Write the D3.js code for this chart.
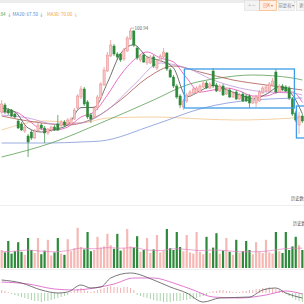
<!DOCTYPE html>
<html>
<head>
<meta charset="utf-8">
<script src="https://cdn.jsdelivr.net/npm/d3@7"></script>
<style>
  html, body { margin: 0; padding: 0; background: #fff; overflow: hidden; }
  svg { display: block; font-family: "Noto Sans CJK SC", "Noto Sans", sans-serif; }
</style>
</head>
<body>
<svg id="chart" width="304" height="304"></svg>
<script>
// daily candles, left to right
const opens = [59,62.5,60,60,58,54.5,53,49.5,47,49,46,49.5,52.5,51,48.5,50,51.5,53,52.5,54,53,53,55.5,61,66.5,70.5,64,57.5,56.5,61,
  66,72.5,79.5,87,92,88,88,85.5,89.5,95.5,99.5,91,85,87.5,83.5,83.5,86.5,81,84.5,86.5,88.5,80,76.5,72,67,61.5,64.5,67,68.5,68.5,
  69,71.5,73.5,71,79.5,72.5,69.5,72,68,70,66.5,69,65.5,68,67,67,63.5,63.5,64.5,68.5,69.5,69.5,72.5,79,69,72,71.5,71,65.5,58.5,52.5,57]
const closes = [63,59,58.5,57,56.5,51,50,51.5,44,46,49.5,52.5,51,48.5,50.5,51.5,50,50,54,52.5,55,55.5,60,67,70.5,63,56.5,55.5,61,66.5,
  73,80,87.5,92.5,88,86.5,85,90,96,99.5,92.5,86,87,84,86,86.5,82,84.5,87,89,80.5,76.5,72,66.5,62.5,64.5,67.5,69,70.5,71,
  72,73.5,71,73,72,69.5,72,67.5,70,66.5,68.5,65.5,67.5,64.5,64.5,63.5,66,66.5,69,71,71.5,73,74.5,69,72,70,69.5,66,58,55,57,54.5]
const highs = [65,63.5,61,60.5,58.5,55.5,54,52.5,48,50,50.5,53.5,53.5,52,51,52,52.5,57.5,55,55,56,56.5,61,68,72,71.5,65,58.5,62,67.5,
  74,81.5,89,95,93,89,88.5,91,97,100.94,100,92,88,88.5,87,87.5,87.5,85.5,88,91,89,81,77.5,73,68,65.5,68.5,70,71.5,72,
  73,74.5,74.5,74,81,73.5,73,73,71,71,69.5,70,68.5,69,68,68,67,67.5,70,72,72.5,74,76,80.5,73,73,72.5,72,66.5,59.5,59,58]
const lows = [58,58,57.5,56.5,56,50.5,49.5,48.5,36.5,45,45.5,49,50,43.5,47.5,49,49.5,49.5,51.5,51.5,52.5,52.5,55,60,65.5,62,55.5,53.5,56,60,
  65.5,72,79,86.5,87,85,84,84.5,89,95,91.5,85,84,83.5,82.5,83,81,80,84,86,79.5,76,71,65.5,61,60,63.5,66.5,67.5,68,
  68.5,71,70.5,70.5,71,69,69,67,67.5,66,66,65,65,64,64,61,63,61.5,64,68,69,69,72,68,68.5,69.5,69,65,57,54,48,53.5]
const volumes = [30,26,45,24,28,43,27,22,50,30,25,50,23,29,47,21,26,50,24,22,48,28,33,67,35,31,60,28,30,52,
  34,36,57,38,32,57,29,33,65,36,34,53,27,30,50,25,31,55,26,29,65,33,30,60,35,28,55,26,24,60,
  27,23,52,25,34,58,24,29,50,27,22,47,25,28,45,30,23,43,27,25,47,26,24,60,28,25,60,30,36,52,38,30]

// moving averages, read at sampled candles: [candle, price]
const ma5 = [[0,61],[4,59.1],[8,51],[12,49],[16,50.3],[20,52.5],[24,61.2],[28,61.3],[32,73.6],[36,88.2],[40,92.6],[44,86.6],
  [48,84.7],[52,81],[56,66.6],[60,69.5],[64,72.3],[68,70.2],[72,67.6],[76,65.7],[80,67.8],[84,71.6],[88,67.5],[91,58.1]]
const ma10 = [[0,59],[4,59],[8,55],[12,50.5],[16,50],[20,51.5],[24,56.5],[28,59],[32,67.5],[36,77.5],[40,85],[44,89],
  [48,86],[52,84],[56,76],[60,69],[64,70],[68,71],[72,69.5],[76,67],[80,67],[84,69],[88,69],[91,63.84]]
const ma20 = [[0,57.5],[8,56],[16,53],[24,53.5],[32,60],[40,72.5],[48,83.5],[56,81],[64,75],[72,71],[80,69],[88,68.5],[91,67.5]]
const ma30 = [[0,57],[10,54],[20,52.5],[28,56],[36,65],[44,76],[52,82],[60,79],[70,75],[80,72.5],[91,70]]
const ma60 = [[0,36.5],[15,43.5],[30,53.5],[46,65],[56,72.5],[66,76],[76,77.5],[88,76],[91,75]]
const ma120 = [[0,43.5],[14,43.5],[24,44],[30,44.5],[46,52.5],[61,61],[76,65],[91,66]]
const ma250 = [[0,50],[13,54.5],[24,53.5],[32,56],[46,56.5],[61,55.5],[71,55],[88,56],[91,56.5]]
const volMa = [[0,27],[4,28],[8,30],[12,28],[16,27],[20,29],[24,33],[28,32],[32,34],[36,33],[40,34],[44,30],
  [48,29],[52,32],[56,31],[60,29],[64,30],[68,29],[72,27],[76,27],[80,28],[84,31],[88,33],[91,33]]

// MACD
const dif = [[0,1.3],[6,1.0],[12,0.3],[17,0],[20,0.1],[24,0.8],[27,0.5],[30,0.6],[33,1.5],[39,2.0],[46,1.3],[51,0.6],
  [56,0],[61,-0.9],[66,-0.5],[75,-0.4],[79,0.3],[83,0.5],[86,0],[91,-0.5]]
const dea = [[0,1.1],[8,0.9],[16,0.4],[22,0.3],[28,0.5],[34,0.9],[40,1.5],[46,1.5],[52,1.0],[58,0.3],[64,-0.4],[72,-0.5],
  [80,-0.2],[86,0.2],[91,-0.1]]
const hist = [0.3,0.2,0.1,-0.1,-0.2,-0.3,-0.4,-0.5,-0.6,-0.7,-0.8,-0.8,-0.9,-0.8,-0.8,-0.7,-0.6,-0.5,-0.4,-0.3,-0.2,0.1,0.2,0.4,
  0.5,0.4,0.2,0.1,0.2,0.3,0.4,0.5,0.6,0.7,0.6,0.6,0.5,0.6,0.6,0.5,0.3,-0.2,-0.3,-0.4,-0.5,-0.6,-0.7,-0.8,
  -0.8,-0.9,-0.9,-0.9,-0.8,-0.8,-0.8,-0.7,-0.7,-0.6,-0.6,-0.5,-0.4,-0.3,-0.2,0.1,0.2,0.2,0.3,0.3,0.2,0.2,0.1,0.1,
  0.1,0.2,0.2,0.3,0.3,0.4,0.4,0.5,0.5,0.6,0.5,0.4,0.3,0.2,-0.1,-0.3,-0.5,-0.7,-0.8,-0.9]

// highlighted ranges: candle span and price span
const boxes = [{from: 55.3, to: 88.6, hi: 80.5, lo: 61}, {from: 89.2, to: 93.5, hi: 62, lo: 46}]

const W = 304
const svg = d3.select('#chart')

const x = d3.scaleLinear().domain([-0.5, 91.5]).range([0, W])
const yPrice = d3.scaleLinear().domain([15, 106]).range([200, 18])
const yVol = d3.scaleLinear().domain([0, 100]).range([268, 208])
const yMacd = d3.scaleLinear().domain([-1.1, 2.3]).range([304, 270])

const idx = d3.range(opens.length)
const isUp = i => closes[i] >= opens[i]
const red = '#e98a8a', redFill = '#f6c6c6', green = '#2e8a3a'

// top toolbar
svg.append('rect').attr('x', 0).attr('y', 0).attr('width', W).attr('height', 3).attr('fill', '#ececec')
const buttons = [
  {x: 244, w: 15, t: '+  —', fill: '#f3f3f3', stroke: '#dddddd', color: '#888'},
  {x: 259, w: 17, t: '日K ▾', fill: '#fff0e4', stroke: '#f3a566', color: '#ef7a2a'},
  {x: 278, w: 16, t: '前复权 ▾', fill: '#f5f5f5', stroke: '#dddddd', color: '#888'},
  {x: 296, w: 14, t: '更多', fill: '#f5f5f5', stroke: '#dddddd', color: '#888'}
]
const btn = svg.selectAll('g.btn').data(buttons).enter().append('g').attr('class', 'btn')
btn.append('rect')
  .attr('x', d => d.x + 0.5).attr('y', 0.5).attr('width', d => d.w).attr('height', 10)
  .attr('fill', d => d.fill).attr('stroke', d => d.stroke).attr('stroke-width', 0.6)
btn.append('text')
  .attr('x', d => d.x + d.w / 2 + 0.5).attr('y', 7.3).attr('text-anchor', 'middle')
  .attr('font-size', 4.3).attr('fill', d => d.color).text(d => d.t)

// legend
const legend = svg.append('g').attr('font-size', 4.6)
legend.append('text').attr('x', 5.5).attr('y', 15.5).attr('text-anchor', 'end').attr('fill', '#3aa84a')
  .text('MA10: ' + ma10[ma10.length - 1][1].toFixed(2))
legend.append('text').attr('x', 7).attr('y', 15.5).attr('fill', '#4d8fd6')
  .text('↓ MA20: ' + ma20[ma20.length - 1][1].toFixed(2) + ' ↓')
legend.append('text').attr('x', 47).attr('y', 15.5).attr('fill', '#efa53c')
  .text('MA30: ' + ma30[ma30.length - 1][1].toFixed(2) + ' ↓')

// pane separators
svg.append('line').attr('x1', 0).attr('x2', W).attr('y1', 205.5).attr('y2', 205.5).attr('stroke', '#eeeeee')
svg.append('line').attr('x1', 0).attr('x2', W).attr('y1', 269.5).attr('y2', 269.5).attr('stroke', '#eeeeee')

// moving averages, long ones first
const maLines = [
  {data: ma250, color: '#f3c58d'},
  {data: ma120, color: '#7f97d8'},
  {data: ma60, color: '#5c9e55'},
  {data: ma30, color: '#a8574f'},
  {data: ma20, color: '#bf97dc'},
  {data: ma10, color: '#e24bb6'},
  {data: ma5, color: '#4a4a4a'}
]
const priceLine = d3.line().x(p => x(p[0])).y(p => yPrice(p[1])).curve(d3.curveMonotoneX)
svg.append('g').selectAll('path').data(maLines).enter().append('path')
  .attr('d', d => priceLine(d.data))
  .attr('fill', 'none').attr('stroke', d => d.color).attr('stroke-width', 0.8)

// candles
const candles = svg.append('g').selectAll('g').data(idx).enter().append('g')
candles.append('line')
  .attr('x1', i => x(i)).attr('x2', i => x(i))
  .attr('y1', i => yPrice(highs[i])).attr('y2', i => yPrice(lows[i]))
  .attr('stroke', i => isUp(i) ? red : green).attr('stroke-width', 0.7)
candles.append('rect')
  .attr('x', i => x(i) - 1.1).attr('width', 2.2)
  .attr('y', i => yPrice(Math.max(opens[i], closes[i])))
  .attr('height', i => Math.max(0.7, Math.abs(yPrice(opens[i]) - yPrice(closes[i]))))
  .attr('fill', i => isUp(i) ? redFill : green)
  .attr('stroke', i => isUp(i) ? red : green).attr('stroke-width', 0.5)

// max price label
const peak = d3.maxIndex(highs)
svg.append('line')
  .attr('x1', x(peak) + 0.5).attr('x2', x(peak) + 3.5)
  .attr('y1', yPrice(highs[peak])).attr('y2', yPrice(highs[peak]))
  .attr('stroke', '#777').attr('stroke-width', 0.5)
svg.append('text').attr('x', x(peak) + 4).attr('y', yPrice(highs[peak]) + 1.6)
  .attr('font-size', 4.5).attr('fill', '#666').text(highs[peak].toFixed(2))

// highlight boxes
svg.append('g').selectAll('rect').data(boxes).enter().append('rect')
  .attr('x', d => x(d.from)).attr('width', d => x(d.to) - x(d.from))
  .attr('y', d => yPrice(d.hi)).attr('height', d => yPrice(d.lo) - yPrice(d.hi))
  .attr('fill', 'none').attr('stroke', '#3d9de6').attr('stroke-width', 1.3)

// volume
svg.append('g').selectAll('rect').data(idx).enter().append('rect')
  .attr('x', i => x(i) - 1.1).attr('width', 2.2)
  .attr('y', i => yVol(volumes[i])).attr('height', i => yVol(0) - yVol(volumes[i]))
  .attr('fill', i => isUp(i) ? '#f5b8b4' : green)
svg.append('path')
  .attr('d', d3.line().x(p => x(p[0])).y(p => yVol(p[1])).curve(d3.curveMonotoneX)(volMa))
  .attr('fill', 'none').attr('stroke', '#e27fc4').attr('stroke-width', 0.7)

// pane labels
svg.append('text').attr('x', 291).attr('y', 199.5).attr('font-size', 4.3).attr('fill', '#555').text('历史数据')
svg.append('text').attr('x', 293).attr('y', 225).attr('font-size', 4.3).attr('fill', '#555').text('历史数据')

// MACD
svg.append('g').selectAll('line').data(idx).enter().append('line')
  .attr('x1', i => x(i)).attr('x2', i => x(i))
  .attr('y1', yMacd(0)).attr('y2', i => yMacd(hist[i]))
  .attr('stroke', i => hist[i] >= 0 ? '#f09c9c' : '#94c794').attr('stroke-width', 0.8)
const macdLine = d3.line().x(p => x(p[0])).y(p => yMacd(p[1])).curve(d3.curveMonotoneX)
svg.append('path').attr('d', macdLine(dea)).attr('fill', 'none').attr('stroke', '#d957c4').attr('stroke-width', 0.8)
svg.append('path').attr('d', macdLine(dif)).attr('fill', 'none').attr('stroke', '#555').attr('stroke-width', 0.8)
</script>
</body>
</html>
